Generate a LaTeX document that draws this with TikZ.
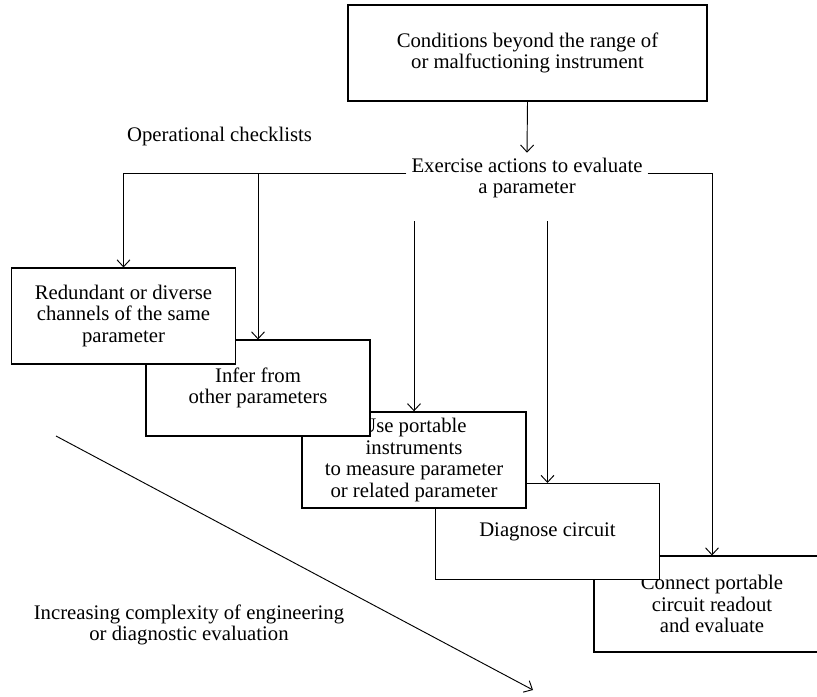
\documentclass[tikz,border=0pt]{standalone}
\usepackage{fontspec}
\setmainfont{Liberation Serif}
\usetikzlibrary{arrows.meta}

\begin{document}
\begin{tikzpicture}[x=0.03cm,y=-0.03cm,line width=0.8pt,
  >={Straight Barb[length=2.1mm,width=3.9mm]},
  font=\fontsize{17.7}{18.4}\selectfont,
  box/.style={draw,fill=white,line width=0.9pt,align=center,inner sep=0pt,
    minimum width=6.72cm,minimum height=2.88cm},
  lbl/.style={align=center,inner sep=4pt}]
  \useasboundingbox (0,0) rectangle (817,696);
  \clip (0,0) rectangle (817,696);
  \node[box,minimum width=10.77cm] (top) at (527.5,53)
    {Conditions beyond the range of\\or malfuctioning instrument};
  \node[box,minimum width=7.08cm] (b5) at (712,604)
    {Connect portable\\circuit readout\\and evaluate};
  \node[box] (b4) at (547.5,531.5) {Diagnose circuit};
  \node[box,line width=1.2pt] (b3) at (414,460)
    {Use portable\\instruments\\to measure parameter\\or related parameter};
  \node[box] (b2) at (258,388) {Infer from\\other parameters};
  \node[box] (b1) at (123.5,316)
    {Redundant or diverse\\channels of the same\\parameter};
  \node[lbl,anchor=west] (ops) at (122,137) {Operational checklists};
  \node[lbl] (exer) at (527,178) {Exercise actions to evaluate\\a parameter};
  \node[lbl] (incr) at (189,625)
    {Increasing complexity of engineering\\or diagnostic evaluation};
  \coordinate (hub) at (527,173);
  \coordinate (s3) at (414,221);
  \coordinate (s4) at (547.5,221);
  \coordinate (d0) at (56,436);
  \coordinate (d1) at (533,690);
  \draw[->] (top.south) -- (exer.north);
  \draw[->] (exer.west |- hub) -| (b1.north);
  \draw[->] (b2.north |- hub) -- (b2.north);
  \draw[->] (exer.east |- hub) -| (b5.north);
  \draw[->] (s3) -- (b3.north);
  \draw[->] (s4) -- (b4.north);
  \draw[->] (d0) -- (d1);
\end{tikzpicture}
\end{document}
